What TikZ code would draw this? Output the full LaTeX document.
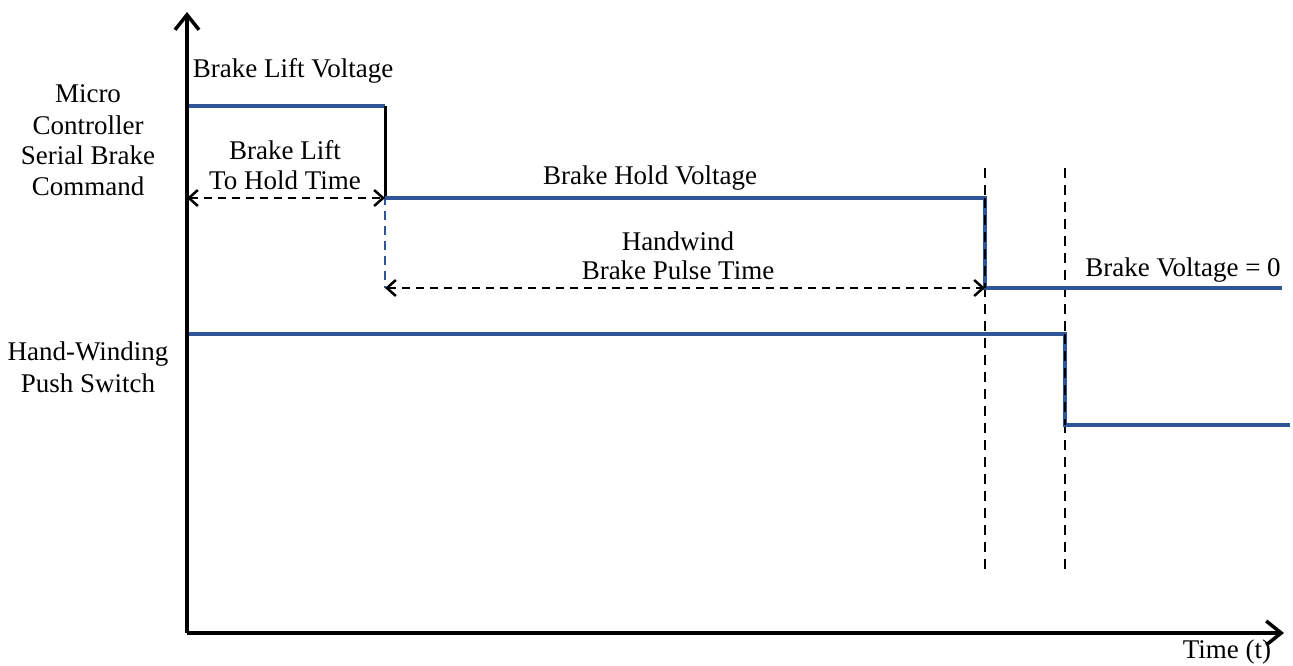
\documentclass[tikz,border=0pt]{standalone}
\usepackage{fontspec}
\setmainfont{Liberation Serif}
\usetikzlibrary{arrows.meta}
\definecolor{sigblue}{HTML}{2F5597}
\begin{document}
\begin{tikzpicture}[x=1pt,y=-1pt,
  axis/.style={line width=3.5pt,black,-{Straight Barb[length=15pt,width=24pt,line width=3.5pt]}},
  sig/.style={line width=4pt,sigblue},
  sigdash/.style={line width=2.5pt,sigblue,dash pattern=on 9pt off 6pt},
  guide/.style={line width=2.5pt,black,dash pattern=on 10pt off 7pt},
  dim/.style={line width=2.5pt,black,dash pattern=on 8pt off 6pt,{Straight Barb[length=9pt,width=16pt,line width=2.5pt]}-{Straight Barb[length=9pt,width=16pt,line width=2.5pt]}},
  lbl/.style={font=\fontsize{27}{31}\selectfont,align=center,inner sep=0pt}]
\useasboundingbox (0,0) rectangle (1293,666);
% coordinates
\coordinate (O) at (187,633);
\coordinate (Ytop) at (187,12);
\coordinate (Xend) at (1284,633);
\coordinate (L0) at (187,106);
\coordinate (L1) at (385,106);
\coordinate (H0) at (385,198);
\coordinate (H1) at (985,198);
\coordinate (Z0) at (985,288);
\coordinate (Z1) at (1282,288);
\coordinate (P0) at (187,334);
\coordinate (P1) at (1065,334);
\coordinate (Q0) at (1065,425);
\coordinate (Q1) at (1290,425);
\coordinate (D0) at (187,198);
\coordinate (E0) at (385,288);
\coordinate (G1a) at (985,168);
\coordinate (G1b) at (985,575);
\coordinate (G2a) at (1065,168);
\coordinate (G2b) at (1065,575);
% guides
\draw[guide] (G1a) -- (G1b);
\draw[guide] (G2a) -- (G2b);
% signals
\draw[sig] (L0) -- (L1);
\draw[sigdash] (L1) -- (E0);
\draw[line width=3pt,black] (L1) -- (H0);
\draw[sig] (H0) -- (H1) -- (Z0) -- (Z1);
\draw[sig] (P0) -- (P1) -- (Q0) -- (Q1);
\draw[guide] (H1) -- (Z0);
\draw[guide] (P1) -- (Q0);
% dimension arrows
\draw[dim] (D0) -- (H0);
\draw[dim] (E0) -- (Z0);
% axes
\draw[axis] (O) -- (Ytop);
\draw[axis] (O) -- (Xend);
% labels
\node[lbl] (tLift) at (293,71) {Brake Lift Voltage};
\node[lbl] (tLH1) at (285,150) {Brake Lift};
\node[lbl] (tLH2) at (285,180) {To Hold Time};
\node[lbl] (tHold) at (650,178) {Brake Hold Voltage};
\node[lbl] (tHW1) at (678,241) {Handwind};
\node[lbl] (tHW2) at (678,270) {Brake Pulse Time};
\node[lbl] (tZero) at (1183,270) {Brake Voltage = 0};
\node[lbl] (tMC1) at (88,94) {Micro};
\node[lbl] (tMC2) at (88,125) {Controller};
\node[lbl] (tMC3) at (88,155) {Serial Brake};
\node[lbl] (tMC4) at (88,186) {Command};
\node[lbl] (tHS1) at (88,354) {Hand-Winding};
\node[lbl] (tHS2) at (88,383) {Push Switch};
\node[lbl] (tTime) at (1227,652) {Time (t)};
\end{tikzpicture}
\end{document}
